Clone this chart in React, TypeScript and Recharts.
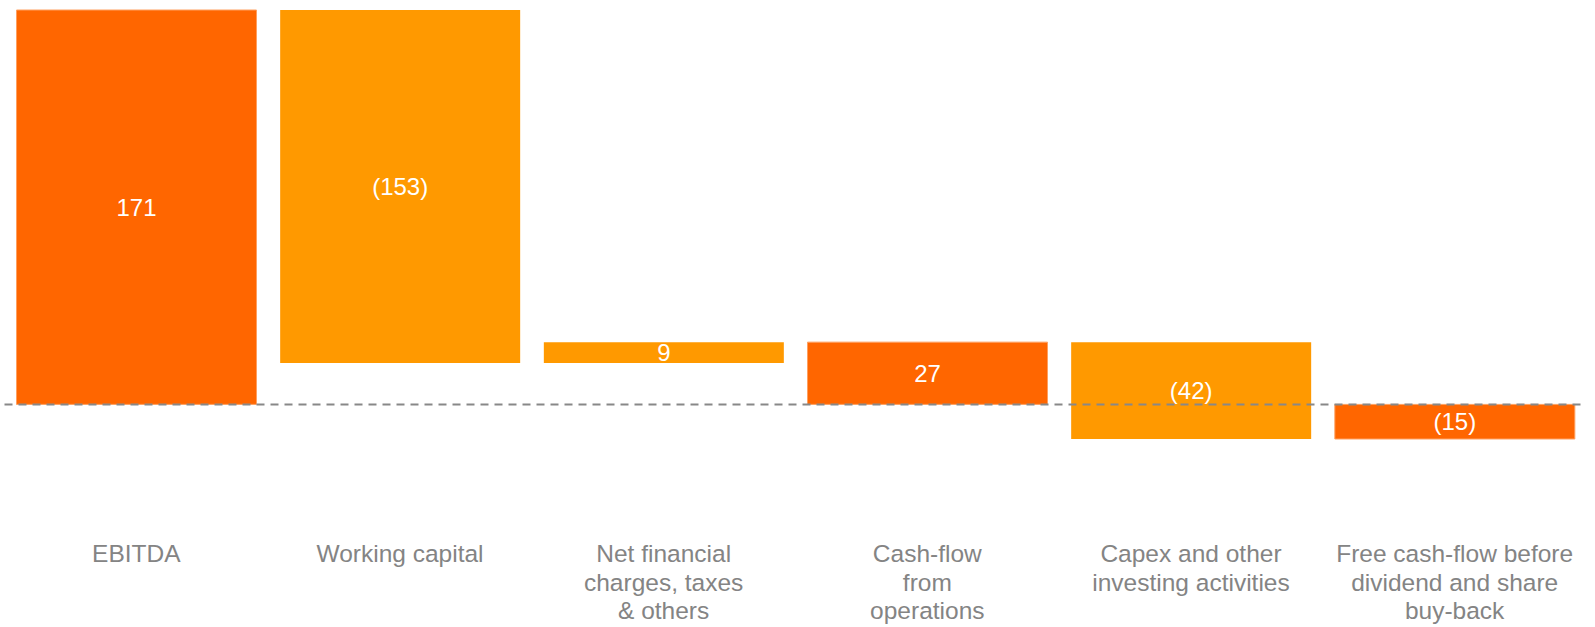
import React from "react";
import { BarChart, Bar, XAxis, YAxis, ReferenceLine, Cell, LabelList } from "recharts";

const categories = [
  "EBITDA",
  "Working capital",
  "Net financial charges, taxes & others",
  "Cash-flow from operations",
  "Capex and other investing activities",
  "Free cash-flow before dividend and share buy-back",
];
const startValues = [0, 171, 18, 0, 27, 0];
const endValues = [171, 18, 27, 27, -15, -15];
const valueLabels = ["171", "(153)", "9", "27", "(42)", "(15)"];
const barKinds = ["total", "change", "change", "total", "change", "total"];
const tickLines = [
  ["EBITDA"],
  ["Working capital"],
  ["Net financial", "charges, taxes", "& others"],
  ["Cash-flow", "from", "operations"],
  ["Capex and other", "investing activities"],
  ["Free cash-flow before", "dividend and share", "buy-back"],
];

const DARK = "#FF6600";
const LIGHT = "#FF9900";
const FONT = "'Liberation Sans', Arial, Helvetica, sans-serif";

const data = categories.map((name, i) => ({
  name,
  idx: i,
  range: [Math.min(startValues[i], endValues[i]), Math.max(startValues[i], endValues[i])],
}));

const CategoryTick = (props: any) => {
  const { x, y, payload } = props;
  const lines = tickLines[payload.index] || [String(payload.value)];
  return (
    <g>
      {lines.map((ln: string, k: number) => (
        <text
          key={k}
          x={x}
          y={y + 123 + k * 28.5}
          textAnchor="middle"
          fill="#848484"
          fontSize={24.5}
          fontFamily={FONT}
        >
          {ln}
        </text>
      ))}
    </g>
  );
};

const ValueLabel = (props: any) => {
  const { x, y, width, height, index } = props;
  const top = Math.min(y, y + height);
  const h = Math.abs(height);
  return (
    <text
      x={x + width / 2}
      y={top + h / 2}
      dy={8.5}
      textAnchor="middle"
      fill="#FFFFFF"
      fontSize={24}
      fontFamily={FONT}
    >
      {valueLabels[index]}
    </text>
  );
};

export default function App() {
  return (
    <div style={{ position: "absolute", left: 0, top: 0, width: 1595, height: 627, background: "#fff" }}>
      <BarChart
        width={1595}
        height={627}
        data={data}
        margin={{ top: 10, right: 8.5, left: 4.5, bottom: 158 }}
      >
        <XAxis
          dataKey="name"
          axisLine={false}
          tickLine={false}
          tickSize={0}
          tickMargin={0}
          interval={0}
          height={30}
          tick={<CategoryTick />}
        />
        <YAxis hide type="number" domain={[-15, 171]} />
        <Bar dataKey="range" barSize={240} isAnimationActive={false}>
          {data.map((d, i) => (
            <Cell
              key={i}
              fill={barKinds[i] === "total" ? DARK : LIGHT}
              stroke={barKinds[i] === "total" ? "#FFA060" : "none"}
              strokeWidth={1}
            />
          ))}
          <LabelList dataKey="range" content={<ValueLabel />} />
        </Bar>
        <ReferenceLine y={0} stroke="#888888" strokeWidth={2} strokeDasharray="8 6" />
      </BarChart>
    </div>
  );
}
